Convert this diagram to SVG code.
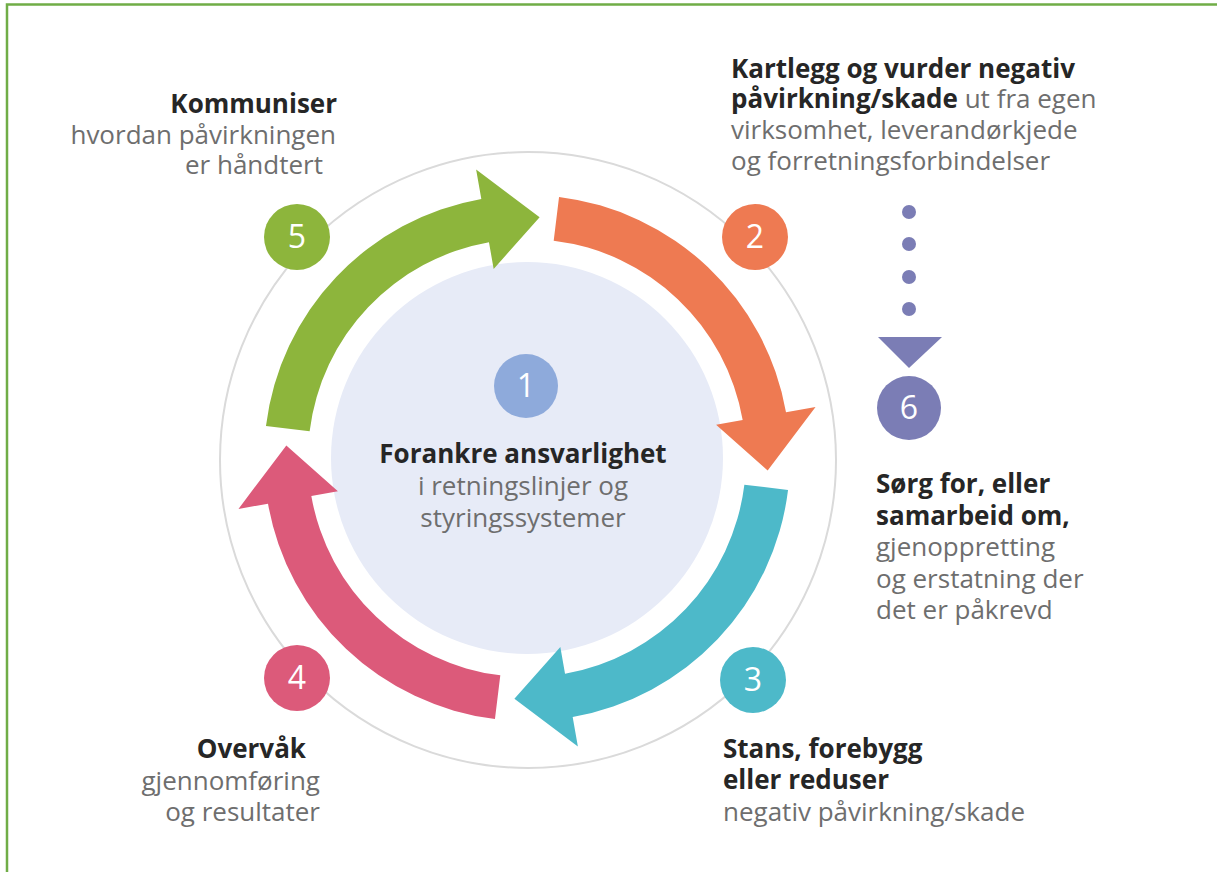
<svg xmlns="http://www.w3.org/2000/svg" width="1217" height="872" viewBox="0 0 1217 872">
<style>
.b{font-family:"Open Sans","Noto Sans","DejaVu Sans",sans-serif;font-weight:700;font-size:26px;fill:#262626}
.r{font-family:"Open Sans","Noto Sans","DejaVu Sans",sans-serif;font-weight:400;font-size:26px;fill:#6e6e6e}
.n{font-family:"Open Sans","Noto Sans","DejaVu Sans",sans-serif;font-weight:400;font-size:32px;fill:#ffffff;text-anchor:middle}
.e{text-anchor:end}
.m{text-anchor:middle}
</style>
<defs>
<path id="arw" d="M788.04,490.05 A263,263 0 0 1 572.67,717.0 L577.88,746.55 L514.39,698.67 L560.34,647.08 L565.03,673.67 A219,219 0 0 0 744.37,484.69 Z"/>
</defs>
<rect width="1217" height="872" fill="#ffffff"/>
<path d="M7,873 V4.5 H1217" fill="none" stroke="#70ad47" stroke-width="2.5"/>
<g id="ring"><circle cx="528" cy="460" r="308" fill="none" stroke="#dadada" stroke-width="2"/></g>
<g id="core"><circle cx="527" cy="458" r="196" fill="#e7ebf7"/></g>
<g id="connectors">
<use href="#arw" fill="#4db9c9"/>
<use href="#arw" fill="#dc5a7a" transform="rotate(90 527 458)"/>
<use href="#arw" fill="#8db53c" transform="rotate(180 527 458)"/>
<use href="#arw" fill="#ee7a52" transform="rotate(270 527 458)"/>
<g fill="#7b7db5">
<circle cx="909" cy="212" r="7"/><circle cx="909" cy="244" r="7"/><circle cx="909" cy="277" r="7"/><circle cx="909" cy="309" r="7"/>
<path d="M878,337 H942 L909,368 Z"/>
</g>
</g>
<g id="n1">
<circle cx="526" cy="386" r="32" fill="#8eaadb"/>
<text class="n" x="526" y="397">1</text>
<text class="b m" x="523" y="463">Forankre ansvarlighet</text>
<text class="r m" x="523" y="495">i retningslinjer og</text>
<text class="r m" x="523" y="527">styringssystemer</text>
</g>
<g id="n2">
<circle cx="755" cy="237" r="33" fill="#ee7a52"/>
<text class="n" x="755" y="248">2</text>
<text class="b" x="731" y="78">Kartlegg og vurder negativ</text>
<text class="b" x="731" y="108">påvirkning/skade<tspan class="r"> ut fra egen</tspan></text>
<text class="r" x="731" y="139">virksomhet, leverandørkjede</text>
<text class="r" x="731" y="170">og forretningsforbindelser</text>
</g>
<g id="n3">
<circle cx="753" cy="680" r="33" fill="#4db9c9"/>
<text class="n" x="753" y="691">3</text>
<text class="b" x="723" y="758">Stans, forebygg</text>
<text class="b" x="723" y="789">eller reduser</text>
<text class="r" x="723" y="821">negativ påvirkning/skade</text>
</g>
<g id="n4">
<circle cx="297" cy="678" r="33" fill="#dc5a7a"/>
<text class="n" x="297" y="689">4</text>
<text class="b e" x="306" y="758">Overvåk</text>
<text class="r e" x="320" y="790">gjennomføring</text>
<text class="r e" x="320" y="821">og resultater</text>
</g>
<g id="n5">
<circle cx="297" cy="237" r="33" fill="#8db53c"/>
<text class="n" x="297" y="248">5</text>
<text class="b e" x="337" y="113">Kommuniser</text>
<text class="r e" x="336" y="144">hvordan påvirkningen</text>
<text class="r e" x="323" y="174">er håndtert</text>
</g>
<g id="n6">
<circle cx="909" cy="408" r="32" fill="#7b7db5"/>
<text class="n" x="909" y="419">6</text>
<text class="b" x="876" y="493">Sørg for, eller</text>
<text class="b" x="876" y="525">samarbeid om,</text>
<text class="r" x="876" y="556">gjenoppretting</text>
<text class="r" x="876" y="588">og erstatning der</text>
<text class="r" x="876" y="619">det er påkrevd</text>
</g>
</svg>
